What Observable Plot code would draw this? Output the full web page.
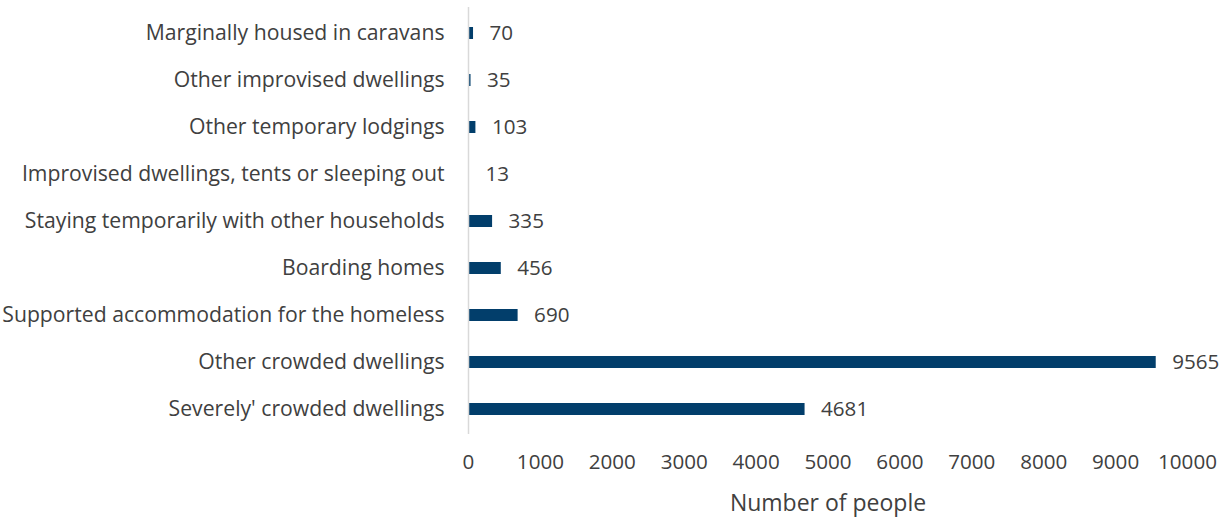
<!DOCTYPE html>
<html><head><meta charset="utf-8">
<script src="https://cdn.jsdelivr.net/npm/d3@7"></script>
<script src="https://cdn.jsdelivr.net/npm/@observablehq/plot@0.6"></script>
<style>body{margin:0;background:#fff;} svg{font-family:"Open Sans",sans-serif;}</style>
</head><body><div id="chart"></div>
<script>
const categories = [
  "Marginally housed in caravans",
  "Other improvised dwellings",
  "Other temporary lodgings",
  "Improvised dwellings, tents or sleeping out",
  "Staying temporarily with other households",
  "Boarding homes",
  "Supported accommodation for the homeless",
  "Other crowded dwellings",
  "Severely' crowded dwellings"
];
const values = [70, 35, 103, 13, 335, 456, 690, 9565, 4681];
const xTicks = [0,1000,2000,3000,4000,5000,6000,7000,8000,9000,10000];
const data = categories.map((c,i)=>({category:c, value:values[i]}));

const chart = Plot.plot({
  width: 1229, height: 520,
  marginLeft: 468, marginRight: 42, marginTop: 7, marginBottom: 86,
  style: {fontFamily: '"Open Sans", sans-serif', fontSize: "20.6px", color: "#404040", background: "#fff", overflow: "visible"},
  x: {domain: [0, 10000], label: null},
  y: {domain: categories, paddingInner: 0.75, paddingOuter: 0.375, label: null},
  marks: [
    Plot.barX(data, {x: "value", y: "category", fill: "#023e6b"}),
    Plot.ruleX([0], {stroke: "#d9d9d9", strokeWidth: 1.5}),
    Plot.text(data, {x: "value", y: "category", text: d => String(d.value), dx: 16, textAnchor: "start", fill: "#404040", fontSize: 20.6}),
    Plot.axisY({tickSize: 0, tickPadding: 24, fontSize: 21.2, label: null, color: "#404040"}),
    Plot.axisX({ticks: xTicks, tickFormat: d => String(d), tickSize: 0, tickPadding: 20, fontSize: 20.6, label: null, color: "#404040"}),
    Plot.axisX({ticks: [], tickSize: 0, label: "Number of people", labelAnchor: "center", labelArrow: "none", labelOffset: 76, fontSize: 23, color: "#404040"})
  ]
});
document.getElementById("chart").appendChild(chart);
</script></body></html>
